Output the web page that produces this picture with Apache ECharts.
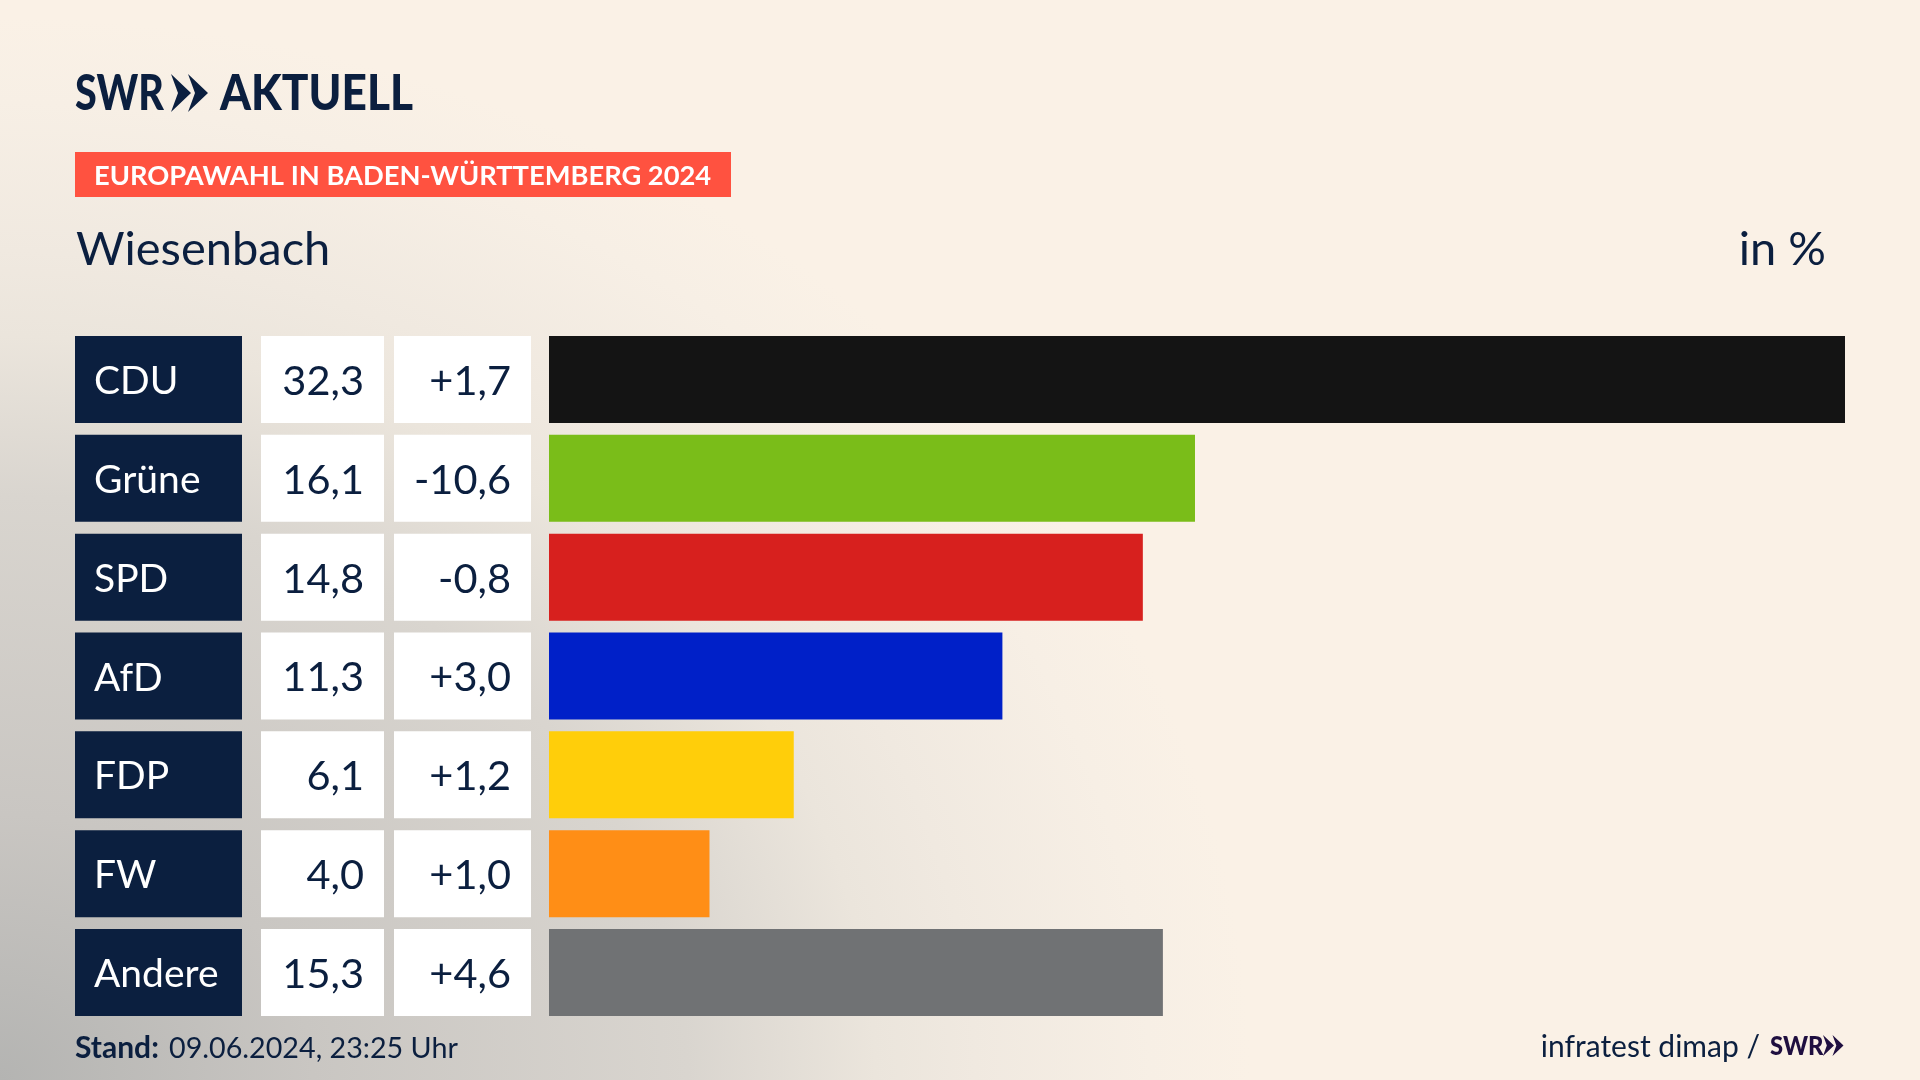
<!DOCTYPE html>
<html>
<head>
<meta charset="utf-8">
<title>Europawahl Wiesenbach</title>
<script src="https://cdn.jsdelivr.net/npm/echarts@6/dist/echarts.min.js"></script>
<style>
html,body{margin:0;padding:0;background:#faf1e6}
#main{width:1920px;height:1080px}
</style>
</head>
<body>
<div id="main"></div>
<script>
// Daten
var parteien = ['CDU','Grüne','SPD','AfD','FDP','FW','Andere'];
var anteile = [32.3,16.1,14.8,11.3,6.1,4.0,15.3];
var differenz = [1.7,-10.6,-0.8,3.0,1.2,1.0,4.6];
var farben = ['#141414','#7abd19','#d7201e','#0020c8','#ffce0a','#ff8e16','#707274'];

var NAVY = '#0b1f3f';
var FONT = 'Lato';

function komma(v){ return v.toFixed(1).replace('.',','); }
function vorzeichen(v){ return (v > 0 ? '+' : '') + komma(v); }

// Spalte links neben den Balken, als eigene Kategorieachse
function spalte(daten, margin, breite, bg, farbe, align, groesse, pl, pr){
    return {
        type:'category', inverse:true, position:'left', data:daten,
        axisLine:{show:false}, axisTick:{show:false},
        axisLabel:{
            margin:margin, align:align, width:breite, height:87,
            backgroundColor:bg, padding:[0,pr,0,pl], overflow:'none',
            formatter:function(v){ return '{t|' + v + '}'; },
            rich:{t:{color:farbe, fontFamily:FONT, fontSize:groesse, lineHeight:87, padding:[4,0,0,0]}}
        }
    };
}

// Doppelpfeil aus dem Logo
function chevrons(x, y, w, h, versatz, farbe){
    var out = [];
    [0, versatz].forEach(function(o){
        var x0 = x + o;
        out.push({type:'polygon', shape:{points:[[x0,y],[x0+w,y+h/2],[x0,y+h],[x0+w*0.35,y+h/2]]}, style:{fill:farbe}});
    });
    return out;
}

function txt(x, y, s, size, weight, farbe, align, scaleX){
    return {type:'text', x:x, y:y, scaleX:scaleX||1, style:{text:s, fontFamily:FONT, fontSize:size, fontWeight:weight, fill:farbe, textAlign:align||'left', textVerticalAlign:'bottom'}};
}

var myChart = echarts.init(document.getElementById('main'));
var option = {
    animation:false,
    backgroundColor:'#faf1e6',
    grid:{left:549, top:330, width:1296, height:692},
    xAxis:{type:'value', min:0, max:32.3, show:false},
    yAxis:[
        spalte(parteien, 474, 148, NAVY, '#ffffff', 'left', 39, 19, 0),
        spalte(anteile.map(komma), 165, 103, '#ffffff', NAVY, 'right', 41.5, 0, 20),
        spalte(differenz.map(vorzeichen), 18, 117, '#ffffff', NAVY, 'right', 41.5, 0, 20)
    ],
    series:[{
        type:'bar', barWidth:87, yAxisIndex:0, silent:true,
        data:anteile.map(function(v,i){ return {value:v, itemStyle:{color:farben[i]}}; })
    }],
    graphic:[
        // grauer Verlauf von links unten, in der Hoehe gestaucht
        {type:'rect', z:-10, x:0, y:1080, scaleY:0.85, shape:{x:0,y:-1271,width:1920,height:1271},
            style:{fill:{type:'radial', x:0, y:0, r:1250, global:true, colorStops:[
                {offset:0,color:'#b4b4b2'},
                {offset:0.25,color:'#c9c6c2'},
                {offset:0.55,color:'#d9d5cf'},
                {offset:0.7,color:'#ebe5dc'},
                {offset:0.78,color:'#f0e9e0'},
                {offset:0.92,color:'#f7efe5'},
                {offset:1,color:'#faf1e6'}
            ]}}},
        txt(75,119,'SWR',50,'900',NAVY,'left',0.79),
        txt(220,119,'AKTUELL',50,'900',NAVY,'left',0.885),
        {type:'rect', shape:{x:75,y:152,width:656,height:45}, style:{fill:'#ff5240'}},
        txt(94,190,'EUROPAWAHL IN BADEN-WÜRTTEMBERG 2024',27.3,'700','#ffffff'),
        txt(76,273,'Wiesenbach',47,'400',NAVY),
        txt(1826,273,'in %',47,'400',NAVY,'right'),
        txt(75,1063,'Stand:',30,'700',NAVY),
        txt(169,1063,'09.06.2024, 23:25 Uhr',28.7,'400',NAVY),
        txt(1760,1062,'infratest dimap /',30,'400',NAVY,'right'),
        txt(1770,1060,'SWR',27,'900','#1f0f40','left',0.88)
    ].concat(chevrons(171,74,20,38,17,NAVY)).concat(chevrons(1823,1035,11,21,9.5,'#1f0f40'))
};
myChart.setOption(option);
</script>
</body>
</html>
